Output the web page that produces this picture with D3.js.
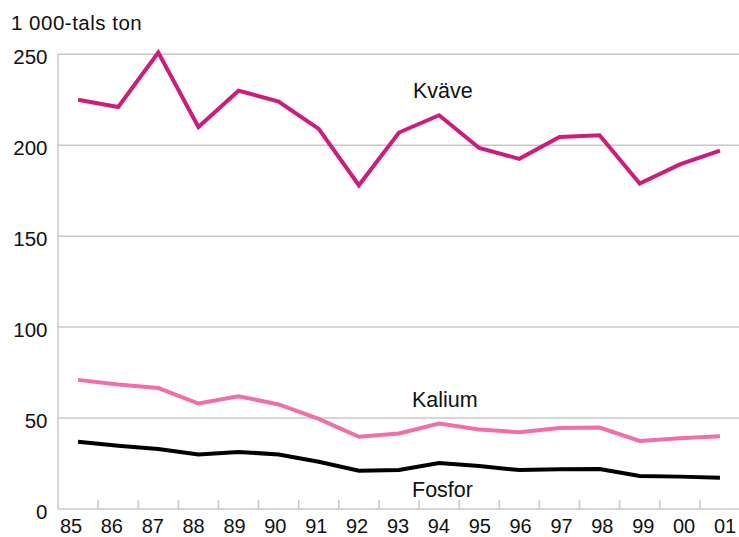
<!DOCTYPE html>
<html><head><meta charset="utf-8">
<script src="https://cdn.jsdelivr.net/npm/d3@7/dist/d3.min.js"></script>
<style>
html,body{margin:0;padding:0;background:#fff;}
svg{display:block;font-family:"Liberation Sans",Arial,Helvetica,sans-serif;}
</style></head>
<body>
<svg id="c" width="739" height="537"></svg>
<script>
const years = ["85","86","87","88","89","90","91","92","93","94","95","96","97","98","99","00","01"];
const kvave  = [225,221,251,210,230,224,209,178,207,216.5,198.5,192.5,204.5,205.5,179,189.5,197];
const kalium = [71,68.5,66.5,58,62,57.5,49.5,39.7,41.5,47,43.7,42.2,44.5,44.8,37.4,38.9,40];
const fosfor = [37,34.8,33,30,31.4,30,26,21,21.4,25.3,23.6,21.4,21.8,22,18.1,17.8,17.2];
const yTicks = [0,50,100,150,200,250];
const unitLabel = "1 000-tals ton";
const seriesNames = ["Kväve","Kalium","Fosfor"];

const svg = d3.select("#c");
const mLeft = 58, mRight = 740, mTop = 54.3, mBottom = 509;
const x = d3.scaleBand().domain(years).range([mLeft, mRight]).padding(0);
const xLabel = d3.scalePoint().domain(years).range([71, 725]);
const y = d3.scaleLinear().domain([0, 250]).range([mBottom, mTop]);
const grid = "#c8c8c8";

svg.append("g").selectAll("line").data(yTicks.filter(d => d > 0)).join("line")
  .attr("x1", mLeft).attr("x2", 739).attr("y1", d => y(d)).attr("y2", d => y(d))
  .attr("stroke", grid).attr("stroke-width", 1.5);

svg.append("line").attr("x1", mLeft).attr("x2", mLeft).attr("y1", mTop).attr("y2", mBottom)
  .attr("stroke", grid).attr("stroke-width", 1.5);
svg.append("line").attr("x1", mLeft).attr("x2", 739).attr("y1", mBottom).attr("y2", mBottom)
  .attr("stroke", grid).attr("stroke-width", 1.5);
svg.append("g").selectAll("line").data(years.slice(1)).join("line")
  .attr("x1", d => x(d)).attr("x2", d => x(d)).attr("y1", mBottom).attr("y2", mBottom - 9)
  .attr("stroke", grid).attr("stroke-width", 1.5);

svg.append("g").selectAll("text").data(yTicks).join("text")
  .attr("x", 47.5).attr("y", d => y(d) + 9.7).attr("text-anchor", "end")
  .attr("font-size", 20.5).attr("fill", "#111").text(d => d);

svg.append("g").selectAll("text").data(years).join("text")
  .attr("x", d => xLabel(d)).attr("y", 532.5).attr("text-anchor", "middle")
  .attr("font-size", 20).attr("fill", "#111").text(d => d);

svg.append("text").attr("x", 11).attr("y", 30).attr("font-size", 20.5)
  .attr("letter-spacing", 0.5).attr("fill", "#111").text(unitLabel);

const line = d3.line().x((d, i) => x(years[i]) + x.bandwidth() / 2).y(d => y(d));
const series = [
  {name: seriesNames[0], values: kvave, color: "#cc1c7c", lx: 413, ly: 98.3},
  {name: seriesNames[1], values: kalium, color: "#ef6fa9", lx: 412, ly: 406.7},
  {name: seriesNames[2], values: fosfor, color: "#000000", lx: 412, ly: 496.7}
];
series.slice().reverse().forEach(s => {
  svg.append("path").datum(s.values).attr("d", line).attr("fill", "none")
    .attr("stroke", s.color).attr("stroke-width", 4).attr("stroke-linejoin", "miter");
});
series.forEach(s => {
  svg.append("text").attr("x", s.lx).attr("y", s.ly).attr("font-size", 21.5).attr("fill", "#111").text(s.name);
});
</script>
</body></html>
